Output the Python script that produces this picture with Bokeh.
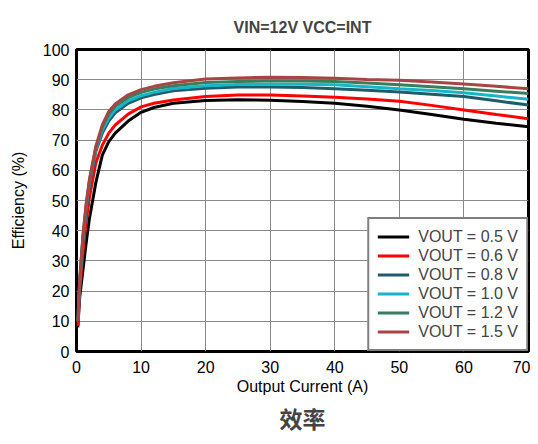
from bokeh.plotting import figure
from bokeh.models import Range1d, Legend, LegendItem, Title, FixedTicker
from bokeh.embed import file_html
from bokeh.resources import INLINE

# ---- data ----
current = [0.2, 0.5, 1, 1.5, 2, 3, 4, 5, 6, 8, 10, 12, 15, 20, 25, 30, 35, 40, 45, 50, 55, 60, 65, 70]

eff_05 = [8, 18, 27, 36, 44, 56, 65, 69.5, 72.3, 76.3, 79.2, 80.8, 82.2, 83.1, 83.4, 83.2, 82.8, 82.2, 81.2, 80.0, 78.5, 76.9, 75.6, 74.4]
eff_06 = [8.5, 20, 33, 43, 51, 62.5, 68.3, 72.3, 75.0, 78.6, 81.0, 82.2, 83.3, 84.4, 84.9, 84.9, 84.6, 84.2, 83.6, 82.9, 81.5, 80.0, 78.5, 77.1]
eff_08 = [10, 22.5, 37, 47, 55, 66.3, 72.3, 76.3, 79.0, 82.2, 84.0, 85.1, 86.3, 87.2, 87.6, 87.6, 87.4, 87.0, 86.5, 85.9, 85.2, 84.4, 83.0, 81.6]
eff_10 = [10.5, 23, 37.5, 48, 56, 67, 73.3, 77.3, 80.0, 83.0, 84.7, 85.8, 87.1, 88.0, 88.4, 88.5, 88.5, 88.3, 87.7, 87.0, 86.4, 85.7, 84.6, 83.5]
eff_12 = [10, 23.5, 38, 48.5, 56.5, 67.5, 74.3, 78.6, 81.2, 84.1, 85.8, 86.9, 88.0, 89.1, 89.4, 89.6, 89.6, 89.4, 88.9, 88.3, 87.7, 87.0, 86.2, 85.4]
eff_15 = [10, 24, 38.5, 49, 57, 68, 75, 79.5, 82.0, 85.0, 86.7, 87.8, 89.0, 90.2, 90.6, 90.8, 90.7, 90.5, 90.1, 89.8, 89.2, 88.6, 87.8, 87.0]

series_labels = ["VOUT = 0.5 V", "VOUT = 0.6 V", "VOUT = 0.8 V", "VOUT = 1.0 V", "VOUT = 1.2 V", "VOUT = 1.5 V"]
series_values = [eff_05, eff_06, eff_08, eff_10, eff_12, eff_15]
series_colors = ["#000000", "#ff0000", "#1f5c6b", "#14b6cc", "#3a7d5c", "#a84444"]

x_ticks = [0, 10, 20, 30, 40, 50, 60, 70]
y_ticks = [0, 10, 20, 30, 40, 50, 60, 70, 80, 90, 100]

FONT = "Liberation Sans"

p = figure(width=530, height=436, output_backend="svg", toolbar_location=None,
           x_range=Range1d(0, 70), y_range=Range1d(0, 100),
           min_border_left=76, min_border_right=2, min_border_top=49, min_border_bottom=74)

p.title.text = "VIN=12V VCC=INT"
p.title.align = "center"
p.title.text_font = FONT
p.title.text_font_size = "16px"
p.title.text_font_style = "bold"
p.title.standoff = 27

p.outline_line_color = "black"
p.outline_line_width = 3
p.background_fill_color = "white"
p.border_fill_color = "white"

for ax in (p.xaxis[0], p.yaxis[0]):
    ax.axis_line_color = None
    ax.major_tick_line_color = None
    ax.minor_tick_line_color = None
    ax.major_tick_out = 0
    ax.major_tick_in = 0
    ax.major_label_text_font = FONT
    ax.major_label_text_font_size = "16px"
    ax.major_label_text_color = "black"
    ax.axis_label_text_font = FONT
    ax.axis_label_text_font_size = "16px"
    ax.axis_label_text_font_style = "normal"
    ax.axis_label_text_color = "black"

p.xaxis.ticker = FixedTicker(ticks=x_ticks)
p.yaxis.ticker = FixedTicker(ticks=y_ticks)
p.xaxis.axis_label = "Output Current (A)"
p.yaxis.axis_label = "Efficiency (%)"
p.xaxis.major_label_standoff = 9
p.xaxis.axis_label_standoff = 2
p.yaxis.major_label_standoff = 7
p.yaxis.axis_label_standoff = 13

p.grid.grid_line_color = "#8a8a8a"
p.grid.grid_line_width = 1

items = []
for lab, vals, col in zip(series_labels, series_values, series_colors):
    r = p.line(current, vals, line_color=col, line_width=3)
    items.append(LegendItem(label=lab, renderers=[r]))

legend = Legend(items=items, location="bottom_right", margin=0, padding=8,
                spacing=0, label_height=19, glyph_height=19, glyph_width=32,
                label_standoff=9, label_text_font=FONT, label_text_font_size="16px",
                border_line_color="black", border_line_width=2,
                background_fill_color="white", background_fill_alpha=1.0)
p.add_layout(legend)

bottom_title = Title(text="效率", align="center", offset=-25,
                     text_font="Noto Sans CJK SC", text_font_size="23px",
                     text_font_style="bold", standoff=3)
p.add_layout(bottom_title, "below")

open("out.html", "w").write(file_html(p, INLINE))
